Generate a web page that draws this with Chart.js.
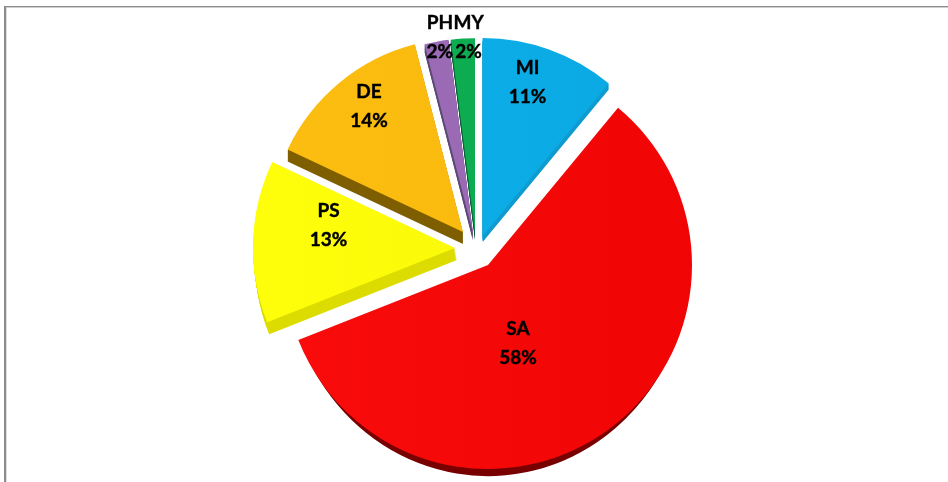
<!DOCTYPE html>
<html>
<head>
<meta charset="utf-8">
<style>
html,body{margin:0;padding:0;background:#fff;width:948px;height:482px;overflow:hidden}
#wrap{position:relative;width:948px;height:482px}
#frame{position:absolute;left:4px;top:6px;right:0;bottom:-5px;border-left:2px solid #8c8c8c;border-top:1px solid #8c8c8c;box-shadow:inset 0 1px 0 #cfcfcf,inset 1px 0 0 #dddddd}
canvas{position:absolute;left:0;top:0}
</style>
<script src="https://cdn.jsdelivr.net/npm/chart.js@4"></script>
</head>
<body>
<div id="wrap"><div id="frame"></div><canvas id="c" width="948" height="482"></canvas></div>
<script>
// Data
const categories = ['MI', 'SA', 'PS', 'DE', 'PH', 'MY'];
const values = [11, 58, 13, 14, 2, 2];

// Styles
const lightColors = ['#0db0ec', '#fa0c0c', '#ffff0c', '#fcbe10', '#9c6cb8', '#0eae52'];
const mainColors  = ['#0aa8e2', '#f00404', '#f6f606', '#f8b80c', '#9868b2', '#0caa4e'];
const sideColors  = ['#0f9bd0', '#780000', '#dcdc00', '#7f5f00', '#5f4a78', '#0b5c38'];
const explodeX = [6.7, 12, -21, -13, -3, -1];
const explodeY = [-12, 17, 0, -16, -15, -16];
const sliceScale = [0.97, 1, 0.99, 0.95, 0.955, 0.95];
const depthX = [0, 0, 2, 0, 0, 0];
const depthY = [6, 0, 12, 12, 8, 8];
const bulgeX = [1, 0.985, 1, 1, 1, 1];
const bulgeY = [1, 1.035, 1, 1, 1, 1];
const labelDX = [17, -18, -45.5, -42, -17, -1];
const labelDY = [-69.5, 12.5, -19, -63, -110, -108.5];

function paintArc(ctx, arc, i, color, dx, dy, sx, sy) {
  const original = arc.options;
  arc.options = new Proxy(original, {
    get: (t, k) => (k === 'backgroundColor' && color) ? color : t[k]
  });
  ctx.save();
  ctx.translate(arc.x + explodeX[i] + dx, arc.y + explodeY[i] + dy);
  ctx.scale(sliceScale[i] * sx, sliceScale[i] * sy);
  ctx.translate(-arc.x, -arc.y);
  arc.draw(ctx);
  ctx.restore();
  arc.options = original;
}

const exploded3D = {
  id: 'exploded3D',
  beforeDatasetDraw(chart, args) {
    const ctx = chart.ctx;
    const arcs = args.meta.data;
    arcs.forEach((arc, i) => {
      if (bulgeY[i] !== 1) {
        // the rounded underside only shows along the lower rim
        const r = arc.outerRadius;
        ctx.save();
        ctx.beginPath();
        ctx.rect(arc.x - 2 * r, arc.y + r * 0.45, 4 * r, 2 * r);
        ctx.clip();
        paintArc(ctx, arc, i, sideColors[i], 0, 0, bulgeX[i], bulgeY[i]);
        ctx.restore();
      }
      const steps = Math.max(Math.abs(depthX[i]), Math.abs(depthY[i]));
      for (let s = steps; s > 0; s--) {
        paintArc(ctx, arc, i, sideColors[i], depthX[i] * s / steps, depthY[i] * s / steps, 1, 1);
      }
    });
    arcs.forEach((arc, i) => paintArc(ctx, arc, i, null, 0, 0, 1, 1));
    return false;
  },
  afterDatasetsDraw(chart) {
    const ctx = chart.ctx;
    const arcs = chart.getDatasetMeta(0).data;
    ctx.save();
    ctx.fillStyle = '#000';
    ctx.strokeStyle = '#000';
    ctx.lineWidth = 0.4;
    ctx.font = 'bold 19px Lato, "Open Sans", sans-serif';
    ctx.textAlign = 'center';
    ctx.textBaseline = 'middle';
    arcs.forEach((arc, i) => {
      const p = arc.tooltipPosition();
      const x = p.x + labelDX[i], y = p.y + labelDY[i];
      [[categories[i], y - 14.5], [values[i] + '%', y + 14.5]].forEach(([t, ty]) => {
        ctx.fillText(t, x, ty);
        ctx.strokeText(t, x, ty);
      });
    });
    ctx.restore();
  }
};

new Chart(document.getElementById('c'), {
  type: 'pie',
  data: {
    labels: categories,
    datasets: [{
      data: values,
      borderWidth: 0,
      backgroundColor: (c) => {
        const g = c.chart.ctx.createLinearGradient(250, 0, 700, 0);
        g.addColorStop(0, lightColors[c.dataIndex]);
        g.addColorStop(1, mainColors[c.dataIndex]);
        return g;
      }
    }]
  },
  options: {
    responsive: false,
    animation: false,
    layout: { padding: { left: 4, right: 0, top: 44, bottom: 30 } },
    plugins: { legend: { display: false }, tooltip: { enabled: false } }
  },
  plugins: [exploded3D]
});
</script>
</body>
</html>
